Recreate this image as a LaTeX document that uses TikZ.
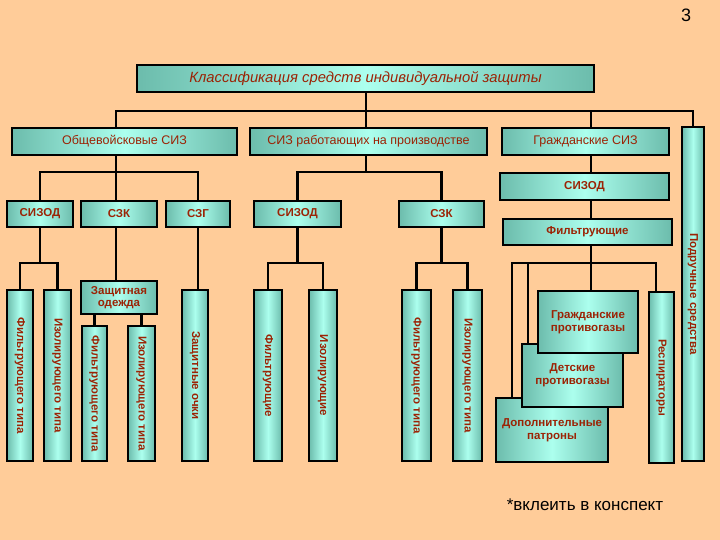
\documentclass[tikz,border=0pt]{standalone}
\usepackage{fontspec}
\setmainfont{Liberation Sans}
\definecolor{bg}{RGB}{255,204,153}
\definecolor{tl}{RGB}{172,255,238}
\definecolor{td}{RGB}{108,188,172}
\definecolor{tx}{RGB}{155,35,5}
\tikzset{
 box/.style={draw=black, line width=1.2pt, left color=td, right color=td, middle color=tl, inner sep=0pt, text=tx, align=center, font=\fontsize{11.5}{13}\selectfont\bfseries},
 hbox/.style={box, font=\fontsize{12.5}{14}\selectfont},
 conn/.style={line width=2.6pt, line join=miter}
}
\newcommand{\vt}[1]{\rotatebox{-90}{#1}}
\begin{document}
\begin{tikzpicture}[x=1pt,y=-1pt]
\useasboundingbox (0,0) rectangle (720,540);
\fill[bg] (0,0) rectangle (720,540);
% page number and note
\node[font=\fontsize{18}{18}\selectfont] (pg) at (686,15) {3};
\node[font=\fontsize{17}{17}\selectfont] (note) at (585,505) {*вклеить в конспект};
% level 0-1
\node[box, font=\itshape\fontsize{14.8}{16}\selectfont, minimum width=457pt, minimum height=27pt] (title) at (365.5,78.5) {Классификация средств индивидуальной защиты};
\node[hbox, minimum width=225pt, minimum height=27pt] (obsh) at (124.5,141.5) {Общевойсковые СИЗ};
\node[hbox, minimum width=237pt, minimum height=27pt] (sizrab) at (368.5,141.5) {СИЗ работающих на производстве};
\node[hbox, minimum width=167pt, minimum height=27pt] (grazhd) at (585.5,141.5) {Гражданские СИЗ};
\node[box, minimum width=22pt, minimum height=334pt] (podr) at (693,294) {\vt{Подручные средства}};
% level 2
\node[box, minimum width=66pt, minimum height=26pt] (sizod1) at (40,214) {СИЗОД};
\node[box, minimum width=76pt, minimum height=26pt] (szk1) at (119,214) {СЗК};
\node[box, minimum width=64pt, minimum height=26pt] (szg) at (198,214) {СЗГ};
\node[box, minimum width=87pt, minimum height=26pt] (sizod2) at (297.5,214) {СИЗОД};
\node[box, minimum width=85pt, minimum height=26pt] (szk2) at (441.5,214) {СЗК};
\node[box, minimum width=169pt, minimum height=27pt] (sizod3) at (584.5,186.5) {СИЗОД};
\node[box, minimum width=169pt, minimum height=26pt] (filtr) at (587.5,232) {Фильтрующие};
% level 3
\node[box, minimum width=26pt, minimum height=171pt] (t1) at (20,375.5) {\vt{Фильтрующего типа}};
\node[box, minimum width=27pt, minimum height=171pt] (t2) at (57.5,375.5) {\vt{Изолирующего типа}};
\node[box, minimum width=76pt, minimum height=33pt, font=\fontsize{11.5}{12.5}\selectfont\bfseries] (zod) at (119,297.5) {Защитная\\одежда};
\node[box, minimum width=25pt, minimum height=135pt] (t3) at (94.5,393.5) {\vt{Фильтрующего типа}};
\node[box, minimum width=27pt, minimum height=135pt] (t4) at (141.5,393.5) {\vt{Изолирующего типа}};
\node[box, minimum width=26pt, minimum height=171pt] (t5) at (195,375.5) {\vt{Защитные очки}};
\node[box, minimum width=28pt, minimum height=171pt] (t6) at (268,375.5) {\vt{Фильтрующие}};
\node[box, minimum width=28pt, minimum height=171pt] (t7) at (323,375.5) {\vt{Изолирующие}};
\node[box, minimum width=29pt, minimum height=171pt] (t8) at (416.5,375.5) {\vt{Фильтрующего типа}};
\node[box, minimum width=29pt, minimum height=171pt] (t9) at (467.5,375.5) {\vt{Изолирующего типа}};
\node[box, minimum width=25pt, minimum height=171pt] (resp) at (661.5,377.5) {\vt{Респираторы}};
\node[box, minimum width=112pt, minimum height=64pt] (dop) at (552,430) {Дополнительные\\патроны};
\node[box, minimum width=101pt, minimum height=63pt] (det) at (572.5,375.5) {Детские\\противогазы};
\node[box, minimum width=100pt, minimum height=62pt] (grpr) at (588,322) {Гражданские\\противогазы};
% helper coordinates
\coordinate (ya) at (0,111);
\coordinate (yb) at (0,172);
\coordinate (yc) at (0,263);
\coordinate (xa) at (116,0);
\coordinate (xb) at (366,0);
\coordinate (xc) at (591,0);
\coordinate (xd) at (512,0);
\coordinate (xe) at (528,0);
\coordinate (xf) at (656,0);
% connectors level 1
\draw[conn] (xa |- obsh.north) -- (xa |- ya) -- (podr.north |- ya) -- (podr.north);
\draw[conn] (xb |- title.south) -- (xb |- ya);
\draw[conn] (xb |- ya) -- (xb |- sizrab.north);
\draw[conn] (xc |- ya) -- (xc |- grazhd.north);
% level 2
\draw[conn] (sizod1.north) -- (sizod1.north |- yb) -- (szg.north |- yb) -- (szg.north);
\draw[conn] (xa |- obsh.south) -- (xa |- szk1.north);
\draw[conn] (sizod2.north) -- (sizod2.north |- yb) -- (szk2.north |- yb) -- (szk2.north);
\draw[conn] (xb |- sizrab.south) -- (xb |- yb);
\draw[conn] (xc |- grazhd.south) -- (xc |- sizod3.north);
\draw[conn] (xc |- sizod3.south) -- (xc |- filtr.north);
% level 3
\draw[conn] (t1.north) -- (t1.north |- yc) -- (t2.north |- yc) -- (t2.north);
\draw[conn] (sizod1.south) -- (sizod1.south |- yc);
\draw[conn] (xa |- szk1.south) -- (xa |- zod.north);
\draw[conn] (t3.north) -- (t3.north |- zod.south);
\draw[conn] (t4.north) -- (t4.north |- zod.south);
\draw[conn] (szg.south) -- (szg.south |- t5.north);
\draw[conn] (t6.north) -- (t6.north |- yc) -- (t7.north |- yc) -- (t7.north);
\draw[conn] (sizod2.south) -- (sizod2.south |- yc);
\draw[conn] (t8.north) -- (t8.north |- yc) -- (t9.north |- yc) -- (t9.north);
\draw[conn] (szk2.south) -- (szk2.south |- yc);
\draw[conn] (xc |- filtr.south) -- (xc |- yc);
\draw[conn] (xd |- dop.north) -- (xd |- yc) -- (xf |- yc) -- (xf |- resp.north);
\draw[conn] (xe |- yc) -- (xe |- det.north);
\draw[conn] (xc |- yc) -- (xc |- grpr.north);
\end{tikzpicture}
\end{document}
